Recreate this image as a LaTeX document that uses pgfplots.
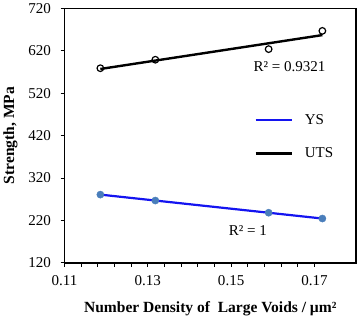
\documentclass[border=0pt]{standalone}
\usepackage{fontspec}
\setmainfont{Liberation Serif}
\usepackage{pgfplots}
\pgfplotsset{compat=1.18}
\definecolor{ysline}{RGB}{20,20,240}
\definecolor{ysmark}{RGB}{74,126,187}
\definecolor{utsline}{RGB}{0,0,0}
\begin{document}
\begin{tikzpicture}
\begin{axis}[
  scale only axis,
  width=291pt, height=254pt,
  xmin=0.11, xmax=0.18,
  ymin=120, ymax=720,
  xtick={0.11,0.13,0.15,0.17},
  xticklabels={0.11,0.13,0.15,0.17},
  minor x tick num=4,
  ytick={120,220,320,420,520,620,720},
  tick align=outside,
  tick pos=left,
  major tick length=4pt, minor tick length=4pt,
  every tick/.style={black, line width=1.1pt},
  axis line style={line width=1.8pt},
  /pgf/number format/assume math mode=true,
  ticklabel style={font=\fontsize{15}{15}\selectfont},
  yticklabel style={xshift=-6pt},
  xticklabel style={yshift=-5pt},
  scaled x ticks=false,
  xlabel={\textbf{Number Density of\ \ Large Voids / µm²}},
  ylabel={\textbf{Strength, MPa}},
  label style={font=\fontsize{15.5}{16}\selectfont},
  xlabel style={yshift=-9pt},
  ylabel style={yshift=4pt},
  legend style={draw=none, fill=none, at={(rel axis cs:0.64,0.60)}, anchor=north west,
    font=\fontsize{15}{15}\selectfont, row sep=18pt,
    nodes={inner sep=2pt}},
  legend cell align=left,
  legend image code/.code={\draw[#1] (0pt,0pt) -- (36pt,0pt);},
]
\addplot[ysline, line width=2.2pt] coordinates {(0.1186,281) (0.1719,224.6)};
\addlegendentry{\hspace{10pt}YS}
\addplot[utsline, line width=2.4pt] coordinates {(0.1186,577.2) (0.1719,657.1)};
\addlegendentry{\hspace{10pt}UTS}
\addplot[only marks, mark=*, mark size=3.6pt, color=ysmark, forget plot] coordinates {
(0.1186,281) (0.1318,267) (0.1590,238.3) (0.1719,224.6)};
\addplot[only marks, mark=o, mark size=3.3pt, black, line width=1.2pt, mark options={fill=white}, forget plot] coordinates {
(0.1186,579) (0.1318,599) (0.1590,624) (0.1719,667)};
\node[font=\fontsize{15}{15}\selectfont] at (axis cs:0.164,583) {R² = 0.9321};
\node[font=\fontsize{15}{15}\selectfont] at (axis cs:0.154,197) {R² = 1};
\end{axis}
\end{tikzpicture}
\end{document}
